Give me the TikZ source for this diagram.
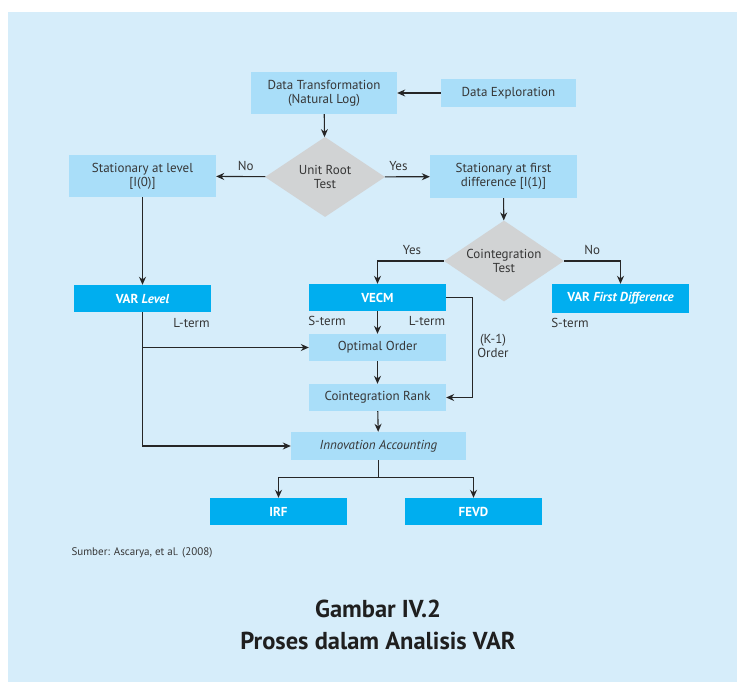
\documentclass[tikz,border=0pt]{standalone}
\usepackage{fontspec}
\setmainfont{PT Sans}
\usetikzlibrary{arrows.meta,shapes.geometric}

\definecolor{bgblue}{HTML}{D6EDFA}
\definecolor{paleblue}{HTML}{A9DEF9}
\definecolor{strongblue}{HTML}{00AEEF}
\definecolor{testgray}{HTML}{D1D3D4}
\definecolor{inkgray}{HTML}{363636}

\begin{document}
\begin{tikzpicture}[x=1pt, y=-1pt,
    every node/.style={text=inkgray, font=\fontsize{13}{14}\selectfont},
    stepbox/.style={fill=paleblue, minimum width=137pt, minimum height=27pt, inner sep=0pt, align=center},
    resultbox/.style={fill=strongblue, minimum width=137pt, minimum height=27pt, inner sep=0pt,
        text=white, font=\fontsize{13}{14}\selectfont\bfseries},
    decision/.style={diamond, fill=testgray, minimum width=120pt, minimum height=80pt, inner sep=0pt},
    conn/.style={draw=black!85, line width=1.1pt, -{Stealth[length=8pt, width=7pt]}},
    link/.style={draw=black!85, line width=1.1pt}]
    \useasboundingbox (0,0) rectangle (737,682);
    % Latar
    \fill[bgblue] (8,12) rectangle (737,682);

    % Data
    \node[stepbox, minimum width=146pt, minimum height=42pt] (trans) at (324,93) {Data Transformation\\(Natural Log)};
    \node[stepbox, minimum width=135pt, minimum height=28pt] (explore) at (508.5,93) {Data Exploration};

    % Uji akar unit
    \node[decision] (unit) at (325,177) {};
    \node[align=center] (unittxt) at (unit) {Unit Root\\Test};
    \node[stepbox, minimum width=147pt, minimum height=42pt] (level) at (142.5,176) {Stationary at level\\{}[I(0)]};
    \node[stepbox, minimum width=147pt, minimum height=43pt] (first) at (503.5,176.5) {Stationary at first\\difference [I(1)]};

    % Uji kointegrasi
    \node[decision, minimum height=81pt] (coint) at (504,261) {};
    \node[align=center] (cointtxt) at (coint) {Cointegration\\Test};

    % Model
    \node[resultbox] (varlevel) at (142.5,298.5) {VAR \textit{Level}};
    \node[resultbox] (vecm) at (377.5,297.5) {VECM};
    \node[resultbox, minimum height=29pt] (varfirst) at (620.5,298.5) {VAR \textit{First Difference}};

    \node[stepbox] (optimal) at (377.5,347.5) {Optimal Order};
    \node[stepbox] (rank) at (377.5,397.5) {Cointegration Rank};
    \node[stepbox, minimum width=175pt, minimum height=28pt] (innov) at (378.5,446) {\textit{Innovation Accounting}};

    \node[resultbox] (irf) at (278.5,511.5) {IRF};
    \node[resultbox] (fevd) at (473.5,511.5) {FEVD};

    % Panah
    \draw[conn] (explore) -- (trans);
    \draw[conn] (trans) -- (unit);
    \draw[conn] (unit) -- (level) node[pos=0.4, above=2pt] (no1) {No};
    \draw[conn] (unit) -- (first) node[pos=0.3, above=2pt] (yes1) {Yes};
    \draw[conn] (first) -- (coint);
    \draw[conn] (coint.west) -| (vecm.north) node[pos=0.24, above=2pt] (yes2) {Yes};
    \draw[conn] (coint.east) -| (varfirst.north) node[pos=0.25, above=2pt] (no2) {No};
    \draw[conn] (level) -- (varlevel);
    \draw[conn] (vecm) -- (optimal);
    \draw[conn] (optimal) -- (rank);
    \draw[conn] (rank) -- (innov);
    \draw[conn] (vecm.east) -- ++(26,0) coordinate (kbend) |- (rank.east);
    \node[align=center] (korder) at (493,346) {(K-1)\\Order};

    \coordinate (jopt) at (varlevel.south |- optimal.west);
    \draw[conn] (varlevel.south) |- (innov.west);
    \draw[conn] (jopt) -- (optimal.west);

    \draw[link] (innov.south) -- ++(0,17) coordinate (split);
    \draw[conn] (split) -| (irf.north);
    \draw[conn] (split) -| (fevd.north);

    % Keterangan jangka
    \node (lterm1) at (191.5,323) {L-term};
    \node (sterm1) at (327,321) {S-term};
    \node (lterm2) at (427,321) {L-term};
    \node (sterm2) at (570,323) {S-term};

    % Sumber dan judul
    \node[anchor=west, font=\fontsize{11}{12}\selectfont] (source) at (68,553) {Sumber: Ascarya, et al. (2008)};
    \node[font=\fontsize{24.5}{26}\selectfont\bfseries, text=black!88] (title1) at (378,609) {Gambar IV.2};
    \node[font=\fontsize{24.5}{26}\selectfont\bfseries, text=black!88] (title2) at (378,641) {Proses dalam Analisis VAR};
\end{tikzpicture}
\end{document}
